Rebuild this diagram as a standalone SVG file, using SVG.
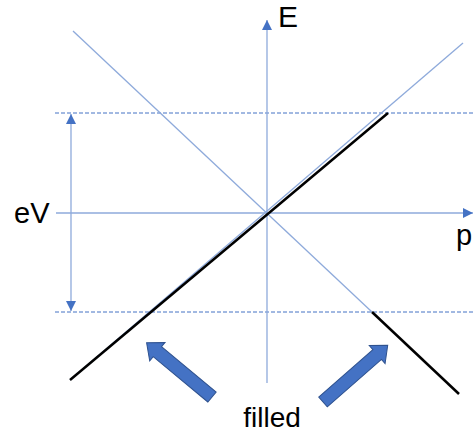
<svg xmlns="http://www.w3.org/2000/svg" width="473" height="434" viewBox="0 0 473 434">
<defs>
<style>
.thin{stroke:#8eaadb;stroke-width:1.3;fill:none}
.dash{stroke:#4472c4;stroke-width:1;stroke-dasharray:4,2;fill:none}
.thick{stroke:#000;stroke-width:2.5;fill:none;stroke-linecap:butt}
.blk{fill:#4472c4;stroke:#2f528f;stroke-width:1}
.lbl{font-family:"Liberation Sans",Arial,sans-serif;fill:#000}
</style>
<marker id="ah" viewBox="0 0 10 10" refX="10" refY="5" markerWidth="10" markerHeight="10" markerUnits="userSpaceOnUse" orient="auto-start-reverse">
<path d="M0,0 L10,5 L0,10 Z" fill="#4472c4"/>
</marker>
</defs>
<g id="connectors">
<line class="dash" x1="55" y1="113" x2="473" y2="113"/>
<line class="dash" x1="55" y1="312" x2="473" y2="312"/>
<line class="thin" x1="267" y1="383" x2="267" y2="20" marker-end="url(#ah)"/>
<line class="thin" x1="56" y1="213" x2="473" y2="213" marker-end="url(#ah)"/>
<line class="thin" x1="71" y1="114" x2="71" y2="311" marker-start="url(#ah)" marker-end="url(#ah)"/>
<line class="thin" x1="70" y1="380" x2="463" y2="43"/>
<line class="thin" x1="73" y1="31" x2="372" y2="312"/>
<line class="thick" x1="70" y1="380" x2="388" y2="113"/>
<line class="thick" x1="372" y1="312" x2="459" y2="394"/>
</g>
<g id="arrow-left">
<polygon class="blk" transform="translate(212,397) rotate(219.7)" points="0,-6.5 71,-6.5 71,-12 85,0 71,12 71,6.5 0,6.5"/>
</g>
<g id="arrow-right">
<polygon class="blk" transform="translate(323,402) rotate(-41.2)" points="0,-6.5 72,-6.5 72,-12 86,0 72,12 72,6.5 0,6.5"/>
</g>
<g id="labels">
<text class="lbl" x="278" y="27" font-size="30">E</text>
<text class="lbl" x="14" y="223" font-size="29">eV</text>
<text class="lbl" x="456" y="245" font-size="29">p</text>
<text class="lbl" x="272" y="427" font-size="28" text-anchor="middle">filled</text>
</g>
</svg>
